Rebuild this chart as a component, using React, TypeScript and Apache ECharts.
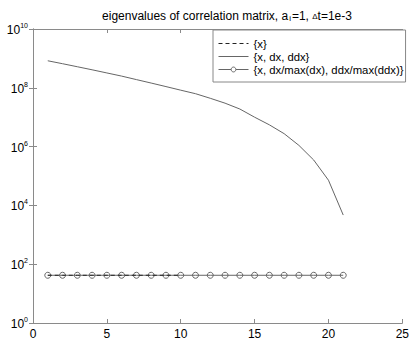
import React, { useEffect, useRef } from "react";
import * as echarts from "echarts";

const xs = [1, 2, 3, 4, 5, 6, 7, 8, 9, 10, 11, 12, 13, 14, 15, 16, 17, 18, 19, 20, 21];
const xOnlyX = [1, 2, 3, 4, 5, 6, 7, 8, 9, 10];
const xOnlyValues = [42, 42, 42, 42, 42, 42, 42, 42, 42, 42];
const fullValues = [
  8.3e8, 6.6e8, 5.2e8, 4.1e8, 3.2e8, 2.5e8, 1.9e8, 1.45e8, 1.1e8, 8.3e7,
  6.3e7, 4.4e7, 3.0e7, 1.9e7, 1.0e7, 5.5e6, 2.75e6, 1.1e6, 3.5e5, 7.2e4, 4.7e3,
];
const normValues = [42, 42, 42, 42, 42, 42, 42, 42, 42, 42, 42, 42, 42, 42, 42, 42, 42, 42, 42, 42, 42];
const seriesNames = ["{x}", "{x, dx, ddx}", "{x, dx/max(dx), ddx/max(ddx)}"];
const xTicks = { min: 0, max: 25, interval: 5 };
const yExtent = { min: 1, max: 1e10, interval: 2 };

const FONT = "Liberation Sans, Arial, Helvetica, sans-serif";

export default function App() {
  const ref = useRef<HTMLDivElement>(null);
  useEffect(() => {
    if (!ref.current) return;
    const chart = echarts.init(ref.current, null, { renderer: "svg" });
    const axisLine = { show: true, lineStyle: { color: "#8a8a8a", width: 1 } };
    const tickStyle = { show: true, inside: true, length: 4, lineStyle: { color: "#8a8a8a", width: 1 } };
    const yLabel = (v: number) => {
      const e = Math.round(Math.log10(v));
      return `{b|10}{e|${e}}`;
    };
    chart.setOption({
      animation: false,
      backgroundColor: "#fff",
      textStyle: { fontFamily: FONT },
      title: {
        text: "eigenvalues of correlation matrix, a{s|i}=1, {d|Δ}t=1e-3",
        left: 222,
        textAlign: "center",
        top: 5,
        textStyle: {
          fontFamily: FONT,
          fontSize: 12,
          fontWeight: "normal",
          color: "#000",
          rich: {
            s: { fontSize: 8, fontFamily: FONT, verticalAlign: "bottom", lineHeight: 8, padding: [0, 1, 0, 1] },
            d: { fontSize: 8, fontFamily: FONT },
          },
        },
      },
      grid: { left: 33, right: 5, top: 29, bottom: 19, containLabel: false },
      legend: {
        orient: "vertical",
        left: 213,
        top: 30,
        padding: [7, 2, 6, 5],
        itemWidth: 30,
        itemHeight: 6,
        itemGap: 0,
        borderColor: "#888",
        borderWidth: 1,
        backgroundColor: "#fff",
        textStyle: { fontSize: 11.3, color: "#000", fontFamily: FONT, lineHeight: 13 },
        data: [
          {
            name: seriesNames[0],
            itemStyle: { opacity: 0 },
            lineStyle: { color: "#222", width: 1, type: [4, 3] },
          },
          {
            name: seriesNames[1],
            itemStyle: { opacity: 0 },
            lineStyle: { color: "#666", width: 1, type: "solid" },
          },
          {
            name: seriesNames[2],
            itemStyle: { color: "#fff", borderColor: "#666", borderWidth: 1 },
            lineStyle: { color: "#666", width: 1, type: "solid" },
          },
        ],
      },
      xAxis: [
        {
          type: "value",
          min: xTicks.min,
          max: xTicks.max,
          interval: xTicks.interval,
          position: "bottom",
          axisLine,
          axisTick: tickStyle,
          axisLabel: { color: "#000", fontSize: 12, fontFamily: FONT, margin: 5 },
          splitLine: { show: false },
        },
        {
          type: "value",
          min: xTicks.min,
          max: xTicks.max,
          interval: xTicks.interval,
          position: "top",
          axisLine,
          axisTick: tickStyle,
          axisLabel: { show: false },
          splitLine: { show: false },
        },
      ],
      yAxis: [
        {
          type: "log",
          logBase: 10,
          min: yExtent.min,
          max: yExtent.max,
          interval: yExtent.interval,
          position: "left",
          axisLine,
          axisTick: tickStyle,
          axisLabel: {
            formatter: yLabel,
            margin: 5,
            color: "#000",
            rich: {
              b: { fontSize: 12, fontFamily: FONT, color: "#000", lineHeight: 14, verticalAlign: "bottom" },
              e: { fontSize: 7, fontFamily: FONT, color: "#000", lineHeight: 8, verticalAlign: "top" },
            },
          },
          splitLine: { show: false },
          minorTick: { show: false },
        },
        {
          type: "log",
          logBase: 10,
          min: yExtent.min,
          max: yExtent.max,
          interval: yExtent.interval,
          position: "right",
          axisLine,
          axisTick: tickStyle,
          axisLabel: { show: false },
          splitLine: { show: false },
        },
      ],
      series: [
        {
          name: seriesNames[0],
          type: "line",
          data: xOnlyX.map((x, i) => [x, xOnlyValues[i]]),
          symbol: "none",
          z: 4,
          itemStyle: { color: "#222" },
          lineStyle: { color: "#222", width: 1, type: [4, 3] },
        },
        {
          name: seriesNames[1],
          type: "line",
          data: xs.map((x, i) => [x, fullValues[i]]),
          symbol: "none",
          itemStyle: { color: "#666" },
          lineStyle: { color: "#666", width: 1 },
        },
        {
          name: seriesNames[2],
          type: "line",
          data: xs.map((x, i) => [x, normValues[i]]),
          symbol: "circle",
          symbolSize: 6,
          showSymbol: true,
          itemStyle: { color: "rgba(255,255,255,0)", borderColor: "#666", borderWidth: 1 },
          lineStyle: { color: "#666", width: 1 },
        },
      ],
    });
    return () => chart.dispose();
  }, []);
  return (
    <div
      ref={ref}
      style={{ position: "fixed", left: 0, top: 0, width: 412, height: 342, background: "#fff" }}
    />
  );
}
